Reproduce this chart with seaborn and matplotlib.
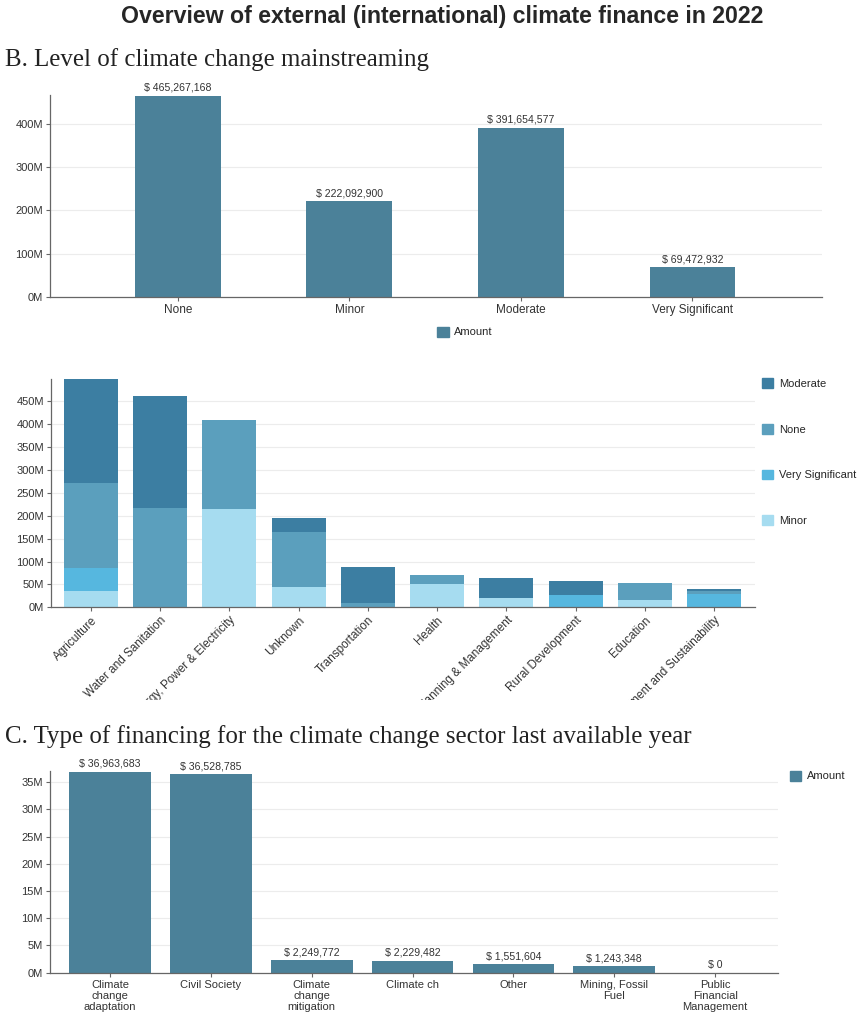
import matplotlib.pyplot as plt
import matplotlib.ticker as mticker
from matplotlib.patches import Patch
from matplotlib.transforms import Bbox, TransformedBbox
import pandas as pd
import numpy as np
import seaborn as sns

# B. level of mainstreaming
levels = ['None', 'Minor', 'Moderate', 'Very Significant']
level_amount = [465267168, 222092900, 391654577, 69472932]

# sectors by mainstreaming level (millions)
sectors = ['Agriculture', 'Water and Sanitation', 'Energy, Power & Electricity', 'Unknown',
           'Transportation', 'Health', 'Planning & Management', 'Rural Development',
           'Education', 'Environment and Sustainability']
minor = [35, 0, 214, 45, 0, 51, 20, 0, 17, 0]
very_sig = [50, 0, 0, 0, 0, 0, 0, 27, 0, 30]
none_ = [187, 218, 195, 120, 9, 20, 0, 0, 36, 5]
moderate = [226, 243, 0, 30, 78, 0, 44, 31, 0, 6]

# C. type of financing
fin_types = ['Climate\nchange\nadaptation', 'Civil Society', 'Climate\nchange\nmitigation',
             'Climate ch', 'Other', 'Mining, Fossil\nFuel', 'Public\nFinancial\nManagement']
fin_amount = [36963683, 36528785, 2249772, 2229482, 1551604, 1243348, 0]

W, H = 859, 1017
sns.set_style('white')
plt.rcParams['font.family'] = ['Liberation Sans', 'DejaVu Sans']
fig = plt.figure(figsize=(W / 100, H / 100), dpi=100)

BAR = '#4b8199'
cols = {'Moderate': '#3c7ea2', 'None': '#5b9fbd', 'Very Significant': '#56b7df', 'Minor': '#a6dcf0'}


def px_axes(l, t, r, b):
    return fig.add_axes([l / W, 1 - b / H, (r - l) / W, (b - t) / H])


def style(ax, xsize=8.5):
    sns.despine(ax=ax)
    for s in ['left', 'bottom']:
        ax.spines[s].set_color('#666666')
        ax.spines[s].set_linewidth(0.9)
    ax.yaxis.grid(True, color='#ececec', lw=0.8)
    ax.set_axisbelow(True)
    ax.tick_params(axis='both', length=3, width=0.8, color='#666666', labelsize=8,
                   labelcolor='#333333', pad=2, left=True, bottom=True)
    ax.tick_params(axis='x', labelsize=xsize)
    ax.set_xlabel('')
    ax.set_ylabel('')


fig.text(442 / W, 1 - 17 / H, 'Overview of external (international) climate finance in 2022',
         ha='center', va='center', fontsize=16.7, fontweight='bold')
fig.text(5 / W, 1 - 60 / H, 'B. Level of climate change mainstreaming',
         family='Liberation Serif', fontsize=17.9, va='center', color='#222222')
fig.text(5 / W, 1 - 737 / H, 'C. Type of financing for the climate change sector last available year',
         family='Liberation Serif', fontsize=17.9, va='center', color='#222222')

# ---- chart 1
ax1 = px_axes(50, 95, 822, 297)
d1 = pd.DataFrame({'level': levels, 'amount': level_amount})
sns.barplot(data=d1, x='level', y='amount', color=BAR, width=0.5, saturation=1,
            linewidth=0, ax=ax1)
ax1.set_xlim(-0.745, 3.755)
ax1.set_ylim(0, 467e6)
ax1.set_yticks(np.arange(0, 401e6, 100e6))
ax1.yaxis.set_major_formatter(mticker.FuncFormatter(lambda v, p: f'{v / 1e6:.0f}M'))
ax1.bar_label(ax1.containers[0], labels=[f'$ {v:,}' for v in level_amount], padding=2,
              fontsize=7.6, color='#333333')
style(ax1)
fig.legend(handles=[Patch(color=BAR, label='Amount')], loc='center', bbox_to_anchor=(465 / W, 1 - 332 / H),
           frameon=False, fontsize=8, handlelength=1, handleheight=1, handletextpad=0.5)

# ---- chart 2 (stacked)
ax2 = px_axes(50.7, 379, 755, 607.3)
bottom = np.zeros(len(sectors))
layers = [('Minor', minor), ('Very Significant', very_sig), ('None', none_), ('Moderate', moderate)]
for name, vals in layers:
    d2 = pd.DataFrame({'sector': sectors, 'v': vals})
    sns.barplot(data=d2, x='sector', y='v', color=cols[name], width=0.78, saturation=1,
                bottom=bottom, linewidth=0, ax=ax2)
    bottom = bottom + np.array(vals)
ax2.set_xlim(-0.58, 9.59)
ax2.set_ylim(0, 499)
ax2.set_yticks(np.arange(0, 451, 50))
ax2.yaxis.set_major_formatter(mticker.FuncFormatter(lambda v, p: f'{v:.0f}M'))
style(ax2)
ax2.set_xticks(range(len(sectors)))
ax2.set_xticklabels(sectors, rotation=45, ha='right', rotation_mode='anchor', fontsize=8.5)
clip = TransformedBbox(Bbox.from_extents(0, 1 - 700 / H, 1, 1), fig.transFigure)
for lbl in ax2.get_xticklabels():
    lbl.set_clip_box(clip)
    lbl.set_clip_on(True)
order = ['Moderate', 'None', 'Very Significant', 'Minor']
fig.legend(handles=[Patch(color=cols[n], label=n) for n in order], loc='upper left',
           bbox_to_anchor=(752 / W, 1 - 368 / H), frameon=False, fontsize=8,
           handlelength=1, handleheight=1, handletextpad=0.5, labelspacing=3.15)

# ---- chart 3
ax3 = px_axes(50, 771, 777.7, 972.7)
d3 = pd.DataFrame({'type': fin_types, 'amount': fin_amount})
sns.barplot(data=d3, x='type', y='amount', color=BAR, width=0.81, saturation=1,
            linewidth=0, ax=ax3)
ax3.set_xlim(-0.595, 6.62)
ax3.set_ylim(0, 37.07e6)
ax3.set_yticks(np.arange(0, 35.1e6, 5e6))
ax3.yaxis.set_major_formatter(mticker.FuncFormatter(lambda v, p: f'{v / 1e6:.0f}M'))
ax3.bar_label(ax3.containers[0], labels=[f'$ {v:,}' for v in fin_amount], padding=2,
              fontsize=7.6, color='#333333')
style(ax3, xsize=8)
for lbl in ax3.get_xticklabels():
    lbl.set_linespacing(1.15)
fig.legend(handles=[Patch(color=BAR, label='Amount')], loc='center left', bbox_to_anchor=(780 / W, 1 - 776 / H),
           frameon=False, fontsize=8, handlelength=1, handleheight=1, handletextpad=0.5)

fig.savefig('out.png', dpi=100)
